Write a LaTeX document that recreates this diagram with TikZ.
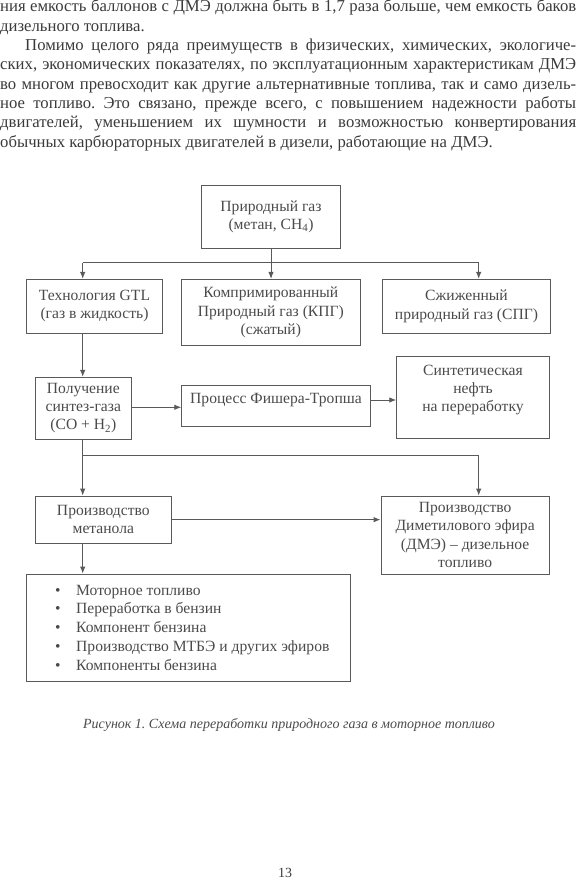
\documentclass[tikz,border=0pt]{standalone}
\usepackage{graphicx}
\usepackage{fontspec}
\setmainfont{Liberation Serif}
\usetikzlibrary{arrows.meta}
\definecolor{ink}{HTML}{3A3A3A}
\definecolor{dink}{HTML}{4A4A4A}
\definecolor{linec}{HTML}{5A5A5A}
\frenchspacing
\newsavebox\jbox
\newcommand{\jline}[2]{\spaceskip=0.25em plus 0.6em minus 0.05em\relax
  \sbox\jbox{#2}%
  \ifdim\wd\jbox>#1\relax\resizebox{#1}{\height}{\usebox\jbox}%
  \else\makebox[#1][s]{#2}\fi}
\begin{document}
\begin{tikzpicture}[x=1pt,y=-1pt,
  body/.style={anchor=base west,inner sep=0pt,text=ink,
    font=\fontsize{16.7}{19.3}\selectfont},
  box/.style={draw=linec,line width=0.9pt,align=center,text=dink,inner sep=2pt,
    font=\fontsize{15.6}{18.2}\selectfont},
  boxtext/.style={align=center,text=dink,inner sep=0pt,font=\fontsize{15.6}{18.2}\selectfont},
  item/.style={anchor=base west,inner sep=0pt,text=dink,font=\fontsize{15.6}{18.9}\selectfont},
  conn/.style={draw=linec,line width=0.9pt},
  arr/.style={conn,-{Latex[length=7pt,width=5.5pt]}}]
\useasboundingbox (0,0) rectangle (576,883);
% body text
\node[body] (l1) at (0,12) {\jline{576pt}{ния емкость баллонов с ДМЭ должна быть в 1,7 раза больше, чем емкость баков}};
\node[body] (l2) at (0,31.3) {дизельного топлива.};
\node[body] (l3) at (25,50.6) {\jline{551pt}{Помимо целого ряда преимуществ в физических, химических, экологиче-}};
\node[body] (l4) at (0,69.9) {\jline{576pt}{ских, экономических показателях, по эксплуатационным характеристикам ДМЭ}};
\node[body] (l5) at (0,89.2) {\jline{576pt}{во многом превосходит как другие альтернативные топлива, так и само дизель-}};
\node[body] (l6) at (0,108.5) {\jline{576pt}{ное топливо. Это связано, прежде всего, с повышением надежности работы}};
\node[body] (l7) at (0,127.8) {\jline{576pt}{двигателей, уменьшением их шумности и возможностью конвертирования}};
\node[body] (l8) at (0,147.1) {обычных карбюраторных двигателей в дизели, работающие на ДМЭ.};
% boxes
\node[box,minimum width=138.6pt,minimum height=63.3pt] (top) at (271,216.7) {Природный газ\\(метан, CH\textsubscript{4})};
\node[box,minimum width=135.6pt,minimum height=54pt] (gtl) at (94.5,306.3) {Технология GTL\\(газ в жидкость)};
\node[box,minimum width=178.3pt,minimum height=66.4pt] (mid) at (270.85,312.5) {Компримированный\\Природный газ (КПГ)\\(сжатый)};
\node[box,minimum width=167.6pt,minimum height=54pt] (spg) at (466.5,306.3) {Сжиженный\\природный газ (СПГ)};
\node[box,minimum width=95.3pt,minimum height=62pt] (syn) at (83.35,408.3) {Получение\\синтез-газа\\(CO + H\textsubscript{2})};
\node[box,minimum width=188.6pt,minimum height=41.7pt] (fis) at (276,405.85) {};
\node[boxtext] (fist) at (276,400) {Процесс Фишера-Тропша};
\node[box,minimum width=152.6pt,minimum height=81.6pt] (oil) at (473,397.5) {};
\node[boxtext] (oilt) at (473,390) {Синтетическая\\нефть\\на переработку};
\node[box,minimum width=136.7pt,minimum height=47.3pt] (meth) at (103.35,519.65) {Производство\\метанола};
\node[box,minimum width=168.3pt,minimum height=78pt] (dme) at (465.15,535) {Производство\\Диметилового эфира\\(ДМЭ) – дизельное\\топливо};
\node[box,minimum width=324pt,minimum height=107.7pt] (list) at (188,627.85) {};
\node[item] (i1) at (55,595) {\makebox[21pt][l]{•}Моторное топливо};
\node[item] (i2) at (55,613.9) {\makebox[21pt][l]{•}Переработка в бензин};
\node[item] (i3) at (55,632.8) {\makebox[21pt][l]{•}Компонент бензина};
\node[item] (i4) at (55,651.7) {\makebox[21pt][l]{•}Производство МТБЭ и других эфиров};
\node[item] (i5) at (55,670.6) {\makebox[21pt][l]{•}Компоненты бензина};
% caption and page number
\node[inner sep=0pt,text=dink,font=\fontsize{14}{17}\selectfont\itshape] (cap) at (289,725) {Рисунок 1. Схема переработки природного газа в моторное топливо};
\node[inner sep=0pt,text=ink,font=\fontsize{14}{17}\selectfont] (pg) at (285,873) {13};
% connectors
\coordinate (jl) at (82.7,262.7);
\coordinate (jr) at (478.7,262.7);
\coordinate (kl) at (82.7,455);
\coordinate (kr) at (478.7,455);
\draw[conn] (top.south) -- (top.south |- jl);
\draw[conn] (jl) -- (jr);
\draw[arr] (jl) -- (jl |- gtl.north);
\draw[arr] (top.south |- jl) -- (top.south |- mid.north);
\draw[arr] (jr) -- (jr |- spg.north);
\draw[arr] (jl |- gtl.south) -- (jl |- syn.north);
\draw[arr] ([yshift=1pt]syn.east) -- ([yshift=1pt]fis.west |- syn.east);
\draw[arr] ([yshift=5.85pt]fis.east) -- ([yshift=5.85pt]oil.west |- fis.east);
\draw[conn] (jl |- syn.south) -- (kl);
\draw[conn] (kl) -- (kr);
\draw[arr] (kl) -- (kl |- meth.north);
\draw[arr] (kr) -- (kr |- dme.north);
\draw[arr] (meth.east) -- (dme.west |- meth.east);
\draw[arr] (kl |- meth.south) -- (kl |- list.north);
\end{tikzpicture}
\end{document}
